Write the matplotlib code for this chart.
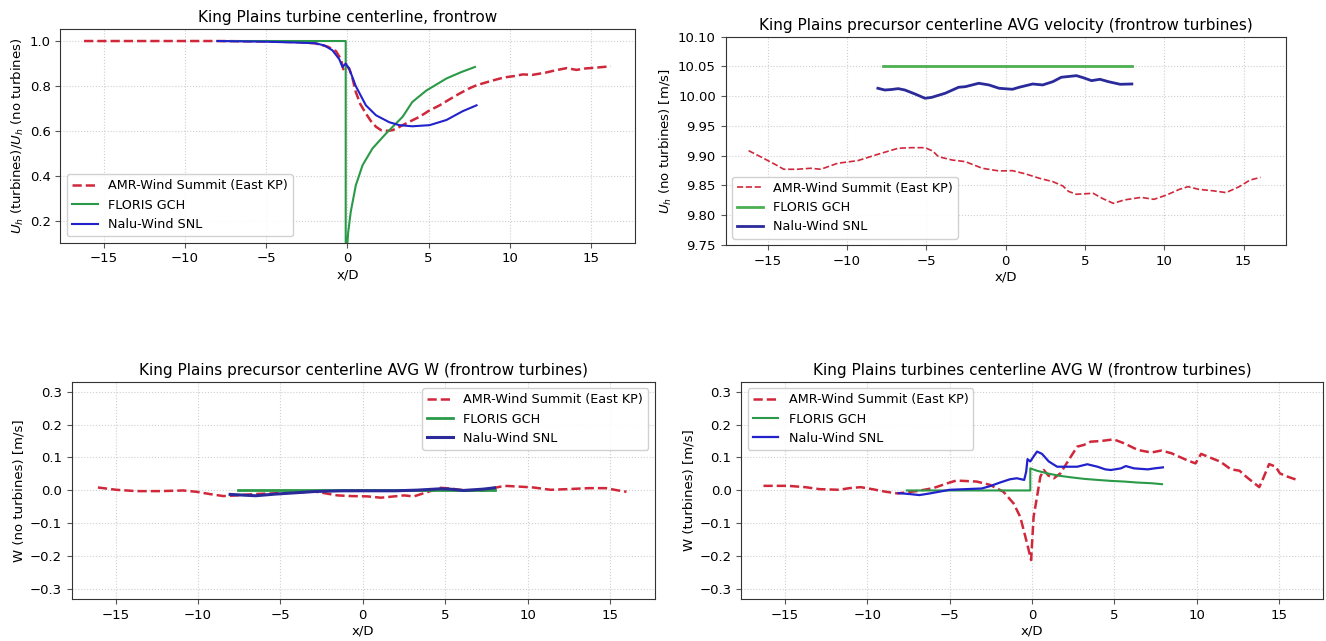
import numpy as np
import matplotlib
matplotlib.use("Agg")
import matplotlib.pyplot as plt
from matplotlib.ticker import MultipleLocator

# ---------------- data ----------------
labels = ["AMR-Wind Summit (East KP)", "FLORIS GCH", "Nalu-Wind SNL"]

# Turbine centerline velocity ratio U_h(turbines)/U_h(no turbines)
ratio_amr_x = [-16.2, -12, -8, -5, -3, -2, -1.2, -0.7, -0.4, -0.25, -0.1, 0.1, 0.3, 0.52,
               0.8, 1.14, 1.45, 1.76, 2.07, 2.5, 2.79, 3.1, 3.4, 3.9, 4.44, 5.0, 5.68,
               6.3, 6.9, 7.5, 7.95, 8.7, 9.4, 9.8, 10.3, 10.8, 11.4, 12.2, 12.8, 13.5,
               14.1, 14.6, 15.3, 16.2]
ratio_amr_y = [1.0, 1.0, 1.0, 0.998, 0.995, 0.99, 0.975, 0.955, 0.92, 0.875, 0.89, 0.88, 0.84, 0.774,
               0.72, 0.679, 0.645, 0.62, 0.605, 0.602, 0.605, 0.615, 0.627, 0.645, 0.664, 0.69, 0.715,
               0.742, 0.767, 0.79, 0.804, 0.82, 0.834, 0.84, 0.845, 0.852, 0.85, 0.86, 0.87, 0.88,
               0.872, 0.878, 0.882, 0.888]
ratio_floris_x = [-7.6, -0.1, -0.1, 0.0, 0.05, 0.21, 0.52, 0.94, 1.55, 2.38, 3.4, 4.0, 4.85,
                  6.1, 7.0, 7.85]
ratio_floris_y = [1.0, 1.0, 0.1, 0.1, 0.15, 0.243, 0.36, 0.45, 0.524, 0.59, 0.664, 0.73, 0.78,
                  0.834, 0.862, 0.885]
ratio_nalu_x = [-8.0, -5, -3, -1.95, -1.4, -0.92, -0.5, -0.3, -0.1, 0.11, 0.52, 1.14, 1.76, 2.58,
                3.2, 4.0, 5.06, 6.1, 7.1, 7.95]
ratio_nalu_y = [1.0, 0.997, 0.993, 0.99, 0.98, 0.959, 0.92, 0.885, 0.9, 0.878, 0.80, 0.715, 0.671,
                0.64, 0.627, 0.622, 0.627, 0.65, 0.689, 0.715]

# Precursor centerline average velocity [m/s]
vel_amr_x = [-16.2, -15.26, -14.5, -13.98, -13.14, -12.29, -11.65, -10.59, -9.32, -8.05, -6.77,
             -5.93, -5.08, -4.6, -4.23, -3.38, -2.53, -1.47, -0.41, 0.43, 1.28, 2.13, 2.98, 3.61,
             3.97, 4.47, 5.52, 6.12, 6.79, 7.47, 8.54, 9.35, 10.15, 10.96, 11.5, 12.17, 13.1,
             13.9, 14.73, 15.4, 16.07]
vel_amr_y = [9.9085, 9.8957, 9.885, 9.8772, 9.8772, 9.8789, 9.8772, 9.8873, 9.8917, 9.9024, 9.9125,
             9.9135, 9.9135, 9.908, 9.8984, 9.8928, 9.89, 9.8789, 9.8744, 9.8749, 9.8693, 9.8621,
             9.8564, 9.8492, 9.840, 9.8352, 9.8369, 9.828, 9.820, 9.8256, 9.830, 9.8267, 9.834,
             9.8435, 9.848, 9.8435, 9.841, 9.838, 9.848, 9.859, 9.8637]
vel_floris_x = [-7.7, 7.95]
vel_floris_y = [10.05, 10.05]
vel_nalu_x = [-8.05, -7.62, -7.2, -6.77, -6.35, -5.71, -5.08, -4.66, -3.80, -2.96, -2.53, -1.69,
              -1.05, -0.41, 0.43, 0.86, 1.71, 2.34, 2.98, 3.51, 4.47, 4.89, 5.42, 5.95, 6.48,
              7.22, 7.96]
vel_nalu_y = [10.0133, 10.0104, 10.0112, 10.0127, 10.0104, 10.0037, 9.9965, 9.998, 10.005, 10.015,
              10.016, 10.0217, 10.0189, 10.0133, 10.0116, 10.015, 10.0205, 10.0189, 10.0244,
              10.0318, 10.0345, 10.0311, 10.0261, 10.0284, 10.0244, 10.02, 10.0205]

# Precursor centerline average vertical velocity W [m/s]
wpre_amr_x = [-16.07, -14.95, -13.73, -12.3, -10.9, -10.1, -9.27, -8.46, -7.65, -6.6, -5.0, -3.6,
              -2.95, -2.35, -1.54, -0.73, 0.29, 1.1, 1.9, 2.5, 3.1, 3.6, 4.1, 4.73, 5.3, 6.2,
              7.3, 8.0, 8.6, 9.4, 10.36, 11.4, 12.4, 13.7, 14.75, 15.5, 16.0]
wpre_amr_y = [0.009, 0.002, -0.002, -0.002, 0.0, -0.004, -0.011, -0.017, -0.015, -0.011, -0.008,
              -0.005, -0.003, -0.008, -0.015, -0.017, -0.018, -0.022, -0.018, -0.015, -0.018,
              -0.010, -0.002, 0.008, 0.006, 0.0, 0.0, 0.008, 0.014, 0.012, 0.009, 0.002, 0.004,
              0.007, 0.007, 0.0, -0.004]
wpre_floris_x = [-7.6, 8.0]
wpre_floris_y = [0.0, 0.0]
wpre_nalu_x = [-8.05, -6.5, -5.3, -4.07, -2.85, -1.2, 0.4, 2.0, 3.3, 4.7, 5.3, 6.1, 7.3, 8.0]
wpre_nalu_y = [-0.012, -0.016, -0.011, -0.007, -0.003, -0.001, -0.001, -0.001, 0.001, 0.005,
               0.004, 0.0, 0.004, 0.008]

# Turbine centerline average vertical velocity W [m/s]
wtur_amr_x = [-16.3, -14.8, -13.76, -12.9, -11.7, -11.1, -10.4, -9.7, -8.87, -8.15, -7.0, -6.0,
              -5.0, -4.59, -3.36, -2.55, -1.73, -1.12, -0.71, -0.35, -0.05, 0.1, 0.31, 0.51, 0.72,
              1.0, 1.33, 1.73, 2.24, 2.75, 3.15, 3.57, 4.2, 4.96, 5.6, 6.42, 7.24, 7.85, 8.46,
              9.36, 9.93, 10.27, 10.65, 11.43, 12.08, 12.6, 13.0, 13.5, 13.8, 14.0, 14.4, 14.8,
              15.05, 15.4, 15.8, 16.1]
wtur_amr_y = [0.014, 0.014, 0.010, 0.004, 0.002, 0.007, 0.010, 0.004, -0.004, -0.009, -0.002,
              0.007, 0.024, 0.030, 0.027, 0.017, -0.004, -0.039, -0.08, -0.15, -0.211, -0.08,
              -0.019, 0.042, 0.062, 0.045, 0.037, 0.052, 0.093, 0.133, 0.138, 0.148, 0.150, 0.155,
              0.143, 0.123, 0.115, 0.121, 0.113, 0.093, 0.082, 0.111, 0.103, 0.0875, 0.064, 0.06,
              0.042, 0.022, 0.010, 0.032, 0.080, 0.072, 0.052, 0.044, 0.037, 0.032]
wtur_floris_x = [-7.6, -0.1, -0.1, 0.3, 0.92, 1.6, 2.34, 3.2, 3.98, 4.8, 5.6, 6.4, 7.24, 7.9]
wtur_floris_y = [0.0, 0.0, 0.067, 0.060, 0.052, 0.045, 0.040, 0.035, 0.032, 0.029, 0.027, 0.024,
                 0.022, 0.019]
wtur_nalu_x = [-8.1, -7.4, -6.83, -6.2, -5.0, -4.0, -3.05, -2.55, -1.94, -1.33, -0.92, -0.47,
               -0.35, -0.27, -0.1, 0.1, 0.31, 0.61, 1.02, 1.53, 2.14, 2.75, 3.36, 3.98, 4.45,
               4.79, 5.4, 5.7, 6.2, 7.03, 7.44, 7.95]
wtur_nalu_y = [-0.008, -0.011, -0.014, -0.009, 0.002, 0.004, 0.006, 0.013, 0.024, 0.034, 0.037,
               0.032, 0.057, 0.095, 0.088, 0.103, 0.118, 0.111, 0.088, 0.072, 0.072, 0.072,
               0.0795, 0.072, 0.064, 0.062, 0.067, 0.074, 0.067, 0.064, 0.067, 0.070]

# ---------------- figure ----------------
plt.rcParams["font.family"] = ["DejaVu Sans"]
plt.rcParams["axes.edgecolor"] = "#333333"

fig = plt.figure(figsize=(13.26, 6.41), dpi=100)

ax_tl = fig.add_axes([0.0456, 0.6214, 0.4333, 0.3329])
ax_tr = fig.add_axes([0.5472, 0.6178, 0.4229, 0.3250])
ax_bl = fig.add_axes([0.0542, 0.0651, 0.4394, 0.3395])
ax_br = fig.add_axes([0.5590, 0.0651, 0.4391, 0.3395])

RED = "#d0283a"
GREEN = "#2a9a48"
BLUE = "#2222cc"
NAVY = "#2a2a9a"

TICK_FS = 9.5
LABEL_FS = 9.5
TITLE_FS = 11
LEG_FS = 9.2


def style(ax, title, ylabel):
    ax.set_title(title, fontsize=TITLE_FS, pad=5)
    ax.set_xlabel("x/D", fontsize=LABEL_FS, labelpad=2)
    ax.set_ylabel(ylabel, fontsize=LABEL_FS, labelpad=3)
    ax.tick_params(labelsize=TICK_FS, length=3.5, color="#555555")
    ax.grid(True, color="#cfcfcf", linestyle=":", linewidth=0.8)
    ax.xaxis.set_major_locator(MultipleLocator(5))
    ax.set_xlim(-17.65, 17.7)


# top left
ax_tl.plot(ratio_amr_x, ratio_amr_y, "--", color=RED, lw=1.8, label=labels[0])
ax_tl.plot(ratio_floris_x, ratio_floris_y, "-", color=GREEN, lw=1.5, label=labels[1])
ax_tl.plot(ratio_nalu_x, ratio_nalu_y, "-", color=BLUE, lw=1.5, label=labels[2])
ax_tl.set_ylim(0.106, 1.052)
ax_tl.yaxis.set_major_locator(MultipleLocator(0.2))
style(ax_tl, "King Plains turbine centerline, frontrow",
      r"$U_h$ (turbines)/$U_h$ (no turbines)")
ax_tl.legend(loc="lower left", fontsize=LEG_FS, framealpha=0.9, edgecolor="#cccccc",
             handlelength=2.0, borderaxespad=0.5)

# top right
ax_tr.plot(vel_amr_x, vel_amr_y, "--", color=RED, lw=1.2, label=labels[0])
ax_tr.plot(vel_floris_x, vel_floris_y, "-", color="#4caf50", lw=2.0, label=labels[1])
ax_tr.plot(vel_nalu_x, vel_nalu_y, "-", color=NAVY, lw=2.0, label=labels[2])
ax_tr.set_ylim(9.75, 10.10)
ax_tr.yaxis.set_major_locator(MultipleLocator(0.05))
style(ax_tr, "King Plains precursor centerline AVG velocity (frontrow turbines)",
      r"$U_h$ (no turbines) [m/s]")
ax_tr.legend(loc="lower left", fontsize=LEG_FS, framealpha=0.9, edgecolor="#cccccc",
             handlelength=2.0, borderaxespad=0.5)

# bottom left
ax_bl.plot(wpre_amr_x, wpre_amr_y, "--", color=RED, lw=1.8, label=labels[0])
ax_bl.plot(wpre_floris_x, wpre_floris_y, "-", color=GREEN, lw=2.0, label=labels[1])
ax_bl.plot(wpre_nalu_x, wpre_nalu_y, "-", color=NAVY, lw=2.2, label=labels[2])
ax_bl.set_ylim(-0.33, 0.33)
ax_bl.yaxis.set_major_locator(MultipleLocator(0.1))
style(ax_bl, "King Plains precursor centerline AVG W (frontrow turbines)",
      "W (no turbines) [m/s]")
ax_bl.legend(loc="upper right", fontsize=LEG_FS, framealpha=0.9, edgecolor="#cccccc",
             handlelength=2.0, borderaxespad=0.5)

# bottom right
ax_br.plot(wtur_amr_x, wtur_amr_y, "--", color=RED, lw=1.8, label=labels[0])
ax_br.plot(wtur_floris_x, wtur_floris_y, "-", color=GREEN, lw=1.5, label=labels[1])
ax_br.plot(wtur_nalu_x, wtur_nalu_y, "-", color=BLUE, lw=1.6, label=labels[2])
ax_br.set_ylim(-0.33, 0.33)
ax_br.yaxis.set_major_locator(MultipleLocator(0.1))
style(ax_br, "King Plains turbines centerline AVG W (frontrow turbines)",
      "W (turbines) [m/s]")
ax_br.legend(loc="upper left", fontsize=LEG_FS, framealpha=0.9, edgecolor="#cccccc",
             handlelength=2.0, borderaxespad=0.5)

fig.savefig("out.png", dpi=100)
